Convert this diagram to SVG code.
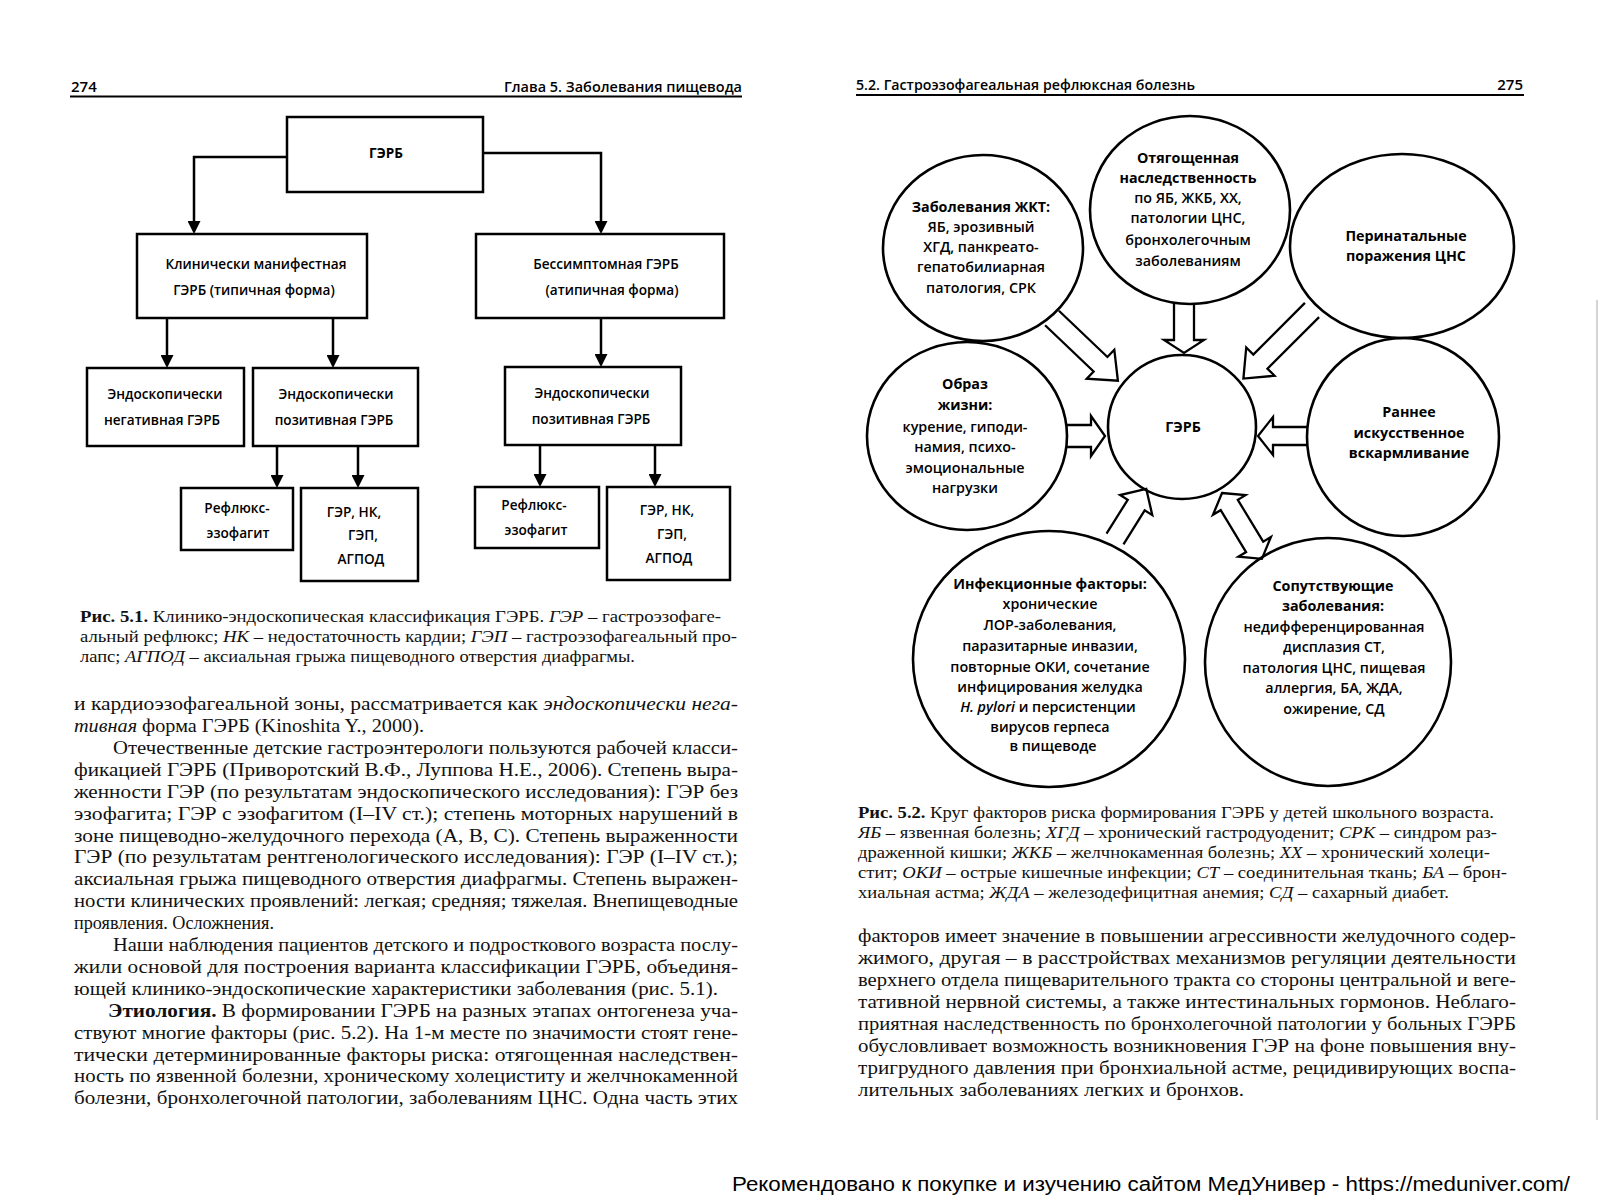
<svg xmlns="http://www.w3.org/2000/svg" width="1601" height="1197" viewBox="0 0 1601 1197">
<style>
.box{fill:none;stroke:#000;stroke-width:2.5}
.ln{fill:none;stroke:#000;stroke-width:2.5}
.circ{fill:none;stroke:#000;stroke-width:2.6}
.ba{fill:none;stroke:#000;stroke-width:2.3;stroke-linejoin:miter}
.d{font-family:"Open Sans","Noto Sans",sans-serif;font-size:14.3px;font-weight:600;text-anchor:middle;fill:#000}
.dl{font-family:"Open Sans","Noto Sans",sans-serif;font-size:13.6px;font-weight:600;text-anchor:middle;fill:#000}
.h{font-weight:700}
.hd{font-family:"Open Sans","Noto Sans",sans-serif;font-size:15px;font-weight:600;fill:#000}
.body{font-family:"Liberation Serif","Times New Roman",serif;font-size:19.8px;fill:#111}
.cap{font-family:"Liberation Serif","Times New Roman",serif;font-size:17px;fill:#111}
.i{font-style:italic}
.bb{font-weight:700}
.wm{font-family:"Liberation Sans",Arial,sans-serif;font-size:20px;fill:#000}
</style>
<defs>
<marker id="ah" markerWidth="13" markerHeight="13" refX="10" refY="6.5" orient="auto" markerUnits="userSpaceOnUse">
<path d="M0,0 L13,6.5 L0,13 Z" fill="#000"/>
</marker>
</defs>
<rect width="1601" height="1197" fill="#fff"/>

<!-- headers -->
<text class="hd" x="71" y="92">274</text>
<text class="hd" x="504" y="92" textLength="238" lengthAdjust="spacingAndGlyphs">Глава 5. Заболевания пищевода</text>
<line x1="70" y1="96.5" x2="742" y2="96.5" stroke="#000" stroke-width="2"/>
<text class="hd" x="856" y="89.5" textLength="339" lengthAdjust="spacingAndGlyphs">5.2. Гастроэзофагеальная рефлюксная болезнь</text>
<text class="hd" x="1523" y="89.5" text-anchor="end">275</text>
<line x1="856" y1="95" x2="1524" y2="95" stroke="#000" stroke-width="2"/>

<!-- Figure 5.1 nodes -->
<g id="n-gerb1"><rect class="box" x="287" y="117" width="196" height="75"/><text class="dl h" x="386" y="158">ГЭРБ</text></g>
<g id="n-manifest"><rect class="box" x="137" y="234" width="230" height="84"/><text class="dl" x="256" y="269">Клинически манифестная</text><text class="dl" x="254" y="295">ГЭРБ (типичная форма)</text></g>
<g id="n-asympt"><rect class="box" x="476" y="234" width="248" height="84"/><text class="dl" x="606" y="269">Бессимптомная ГЭРБ</text><text class="dl" x="612" y="295">(атипичная форма)</text></g>
<g id="n-neg"><rect class="box" x="87" y="368" width="157" height="78"/><text class="dl" x="165" y="399">Эндоскопически</text><text class="dl" x="162" y="425">негативная ГЭРБ</text></g>
<g id="n-pos1"><rect class="box" x="253" y="368" width="165" height="78"/><text class="dl" x="336" y="399">Эндоскопически</text><text class="dl" x="334" y="425">позитивная ГЭРБ</text></g>
<g id="n-pos2"><rect class="box" x="505" y="367" width="176" height="78"/><text class="dl" x="592" y="398">Эндоскопически</text><text class="dl" x="591" y="424">позитивная ГЭРБ</text></g>
<g id="n-re1"><rect class="box" x="181" y="488" width="112" height="62"/><text class="dl" x="237" y="513">Рефлюкс-</text><text class="dl" x="238" y="538">эзофагит</text></g>
<g id="n-ger1"><rect class="box" x="301" y="488" width="117" height="93"/><text class="dl" x="354" y="517">ГЭР, НК,</text><text class="dl" x="363" y="540">ГЭП,</text><text class="dl" x="361" y="564">АГПОД</text></g>
<g id="n-re2"><rect class="box" x="475" y="487" width="124" height="61"/><text class="dl" x="534" y="510">Рефлюкс-</text><text class="dl" x="536" y="535">эзофагит</text></g>
<g id="n-ger2"><rect class="box" x="607" y="487" width="123" height="93"/><text class="dl" x="667" y="515">ГЭР, НК,</text><text class="dl" x="672" y="539">ГЭП,</text><text class="dl" x="669" y="563">АГПОД</text></g>

<g id="connectors-5-1">
<path class="ln" d="M287,157 H194 V231" marker-end="url(#ah)"/>
<path class="ln" d="M483,153 H601 V231" marker-end="url(#ah)"/>
<path class="ln" d="M167,318 V365" marker-end="url(#ah)"/>
<path class="ln" d="M333,318 V365" marker-end="url(#ah)"/>
<path class="ln" d="M601,318 V364" marker-end="url(#ah)"/>
<path class="ln" d="M277,446 V485" marker-end="url(#ah)"/>
<path class="ln" d="M358,446 V485" marker-end="url(#ah)"/>
<path class="ln" d="M540,445 V484" marker-end="url(#ah)"/>
<path class="ln" d="M655,445 V484" marker-end="url(#ah)"/>
</g>

<!-- caption 5.1 -->
<text class="cap" x="80" y="622" textLength="641" lengthAdjust="spacingAndGlyphs"><tspan class="bb">Рис. 5.1.</tspan> Клинико-эндоскопическая классификация ГЭРБ. <tspan class="i">ГЭР</tspan> – гастроэзофаге-</text>
<text class="cap" x="80" y="642" textLength="657" lengthAdjust="spacingAndGlyphs">альный рефлюкс; <tspan class="i">НК</tspan> – недостаточность кардии; <tspan class="i">ГЭП</tspan> – гастроэзофагеальный про-</text>
<text class="cap" x="80" y="662" textLength="555" lengthAdjust="spacingAndGlyphs">лапс; <tspan class="i">АГПОД</tspan> – аксиальная грыжа пищеводного отверстия диафрагмы.</text>

<!-- left body text -->
<text class="body" x="74" y="710" textLength="664" lengthAdjust="spacingAndGlyphs">и кардиоэзофагеальной зоны, рассматривается как <tspan class="i">эндоскопически нега-</tspan></text>
<text class="body" x="74" y="732" textLength="350" lengthAdjust="spacingAndGlyphs"><tspan class="i">тивная</tspan> форма ГЭРБ (Kinoshita Y., 2000).</text>
<text class="body" x="113" y="754" textLength="625" lengthAdjust="spacingAndGlyphs">Отечественные детские гастроэнтерологи пользуются рабочей класси-</text>
<text class="body" x="74" y="776" textLength="664" lengthAdjust="spacingAndGlyphs">фикацией ГЭРБ (Приворотский В.Ф., Луппова Н.Е., 2006). Степень выра-</text>
<text class="body" x="74" y="798" textLength="664" lengthAdjust="spacingAndGlyphs">женности ГЭР (по результатам эндоскопического исследования): ГЭР без</text>
<text class="body" x="74" y="820" textLength="664" lengthAdjust="spacingAndGlyphs">эзофагита; ГЭР с эзофагитом (I–IV ст.); степень моторных нарушений в</text>
<text class="body" x="74" y="842" textLength="664" lengthAdjust="spacingAndGlyphs">зоне пищеводно-желудочного перехода (А, В, С). Степень выраженности</text>
<text class="body" x="74" y="863" textLength="664" lengthAdjust="spacingAndGlyphs">ГЭР (по результатам рентгенологического исследования): ГЭР (I–IV ст.);</text>
<text class="body" x="74" y="885" textLength="664" lengthAdjust="spacingAndGlyphs">аксиальная грыжа пищеводного отверстия диафрагмы. Степень выражен-</text>
<text class="body" x="74" y="907" textLength="664" lengthAdjust="spacingAndGlyphs">ности клинических проявлений: легкая; средняя; тяжелая. Внепищеводные</text>
<text class="body" x="74" y="929" textLength="200" lengthAdjust="spacingAndGlyphs">проявления. Осложнения.</text>
<text class="body" x="113" y="951" textLength="625" lengthAdjust="spacingAndGlyphs">Наши наблюдения пациентов детского и подросткового возраста послу-</text>
<text class="body" x="74" y="973" textLength="664" lengthAdjust="spacingAndGlyphs">жили основой для построения варианта классификации ГЭРБ, объединя-</text>
<text class="body" x="74" y="995" textLength="644" lengthAdjust="spacingAndGlyphs">ющей клинико-эндоскопические характеристики заболевания (рис. 5.1).</text>
<text class="body" x="108" y="1017" textLength="630" lengthAdjust="spacingAndGlyphs"><tspan class="bb">Этиология.</tspan> В формировании ГЭРБ на разных этапах онтогенеза уча-</text>
<text class="body" x="74" y="1039" textLength="664" lengthAdjust="spacingAndGlyphs">ствуют многие факторы (рис. 5.2). На 1-м месте по значимости стоят гене-</text>
<text class="body" x="74" y="1061" textLength="664" lengthAdjust="spacingAndGlyphs">тически детерминированные факторы риска: отягощенная наследствен-</text>
<text class="body" x="74" y="1082" textLength="664" lengthAdjust="spacingAndGlyphs">ность по язвенной болезни, хроническому холециститу и желчнокаменной</text>
<text class="body" x="74" y="1104" textLength="664" lengthAdjust="spacingAndGlyphs">болезни, бронхолегочной патологии, заболеваниям ЦНС. Одна часть этих</text>

<!-- Figure 5.2 nodes -->
<g id="n-gkt"><ellipse class="circ" cx="983" cy="248" rx="100" ry="93"/>
<text class="d h" x="981" y="212">Заболевания ЖКТ:</text><text class="d" x="981" y="232">ЯБ, эрозивный</text><text class="d" x="981" y="252">ХГД, панкреато-</text><text class="d" x="981" y="272">гепатобилиарная</text><text class="d" x="981" y="293">патология, СРК</text></g>
<g id="n-hered"><ellipse class="circ" cx="1190" cy="210" rx="100" ry="94"/>
<text class="d h" x="1188" y="163">Отягощенная</text><text class="d h" x="1188" y="183">наследственность</text><text class="d" x="1188" y="203">по ЯБ, ЖКБ, ХХ,</text><text class="d" x="1188" y="223">патологии ЦНС,</text><text class="d" x="1188" y="245">бронхолегочным</text><text class="d" x="1188" y="266">заболеваниям</text></g>
<g id="n-perinat"><ellipse class="circ" cx="1402" cy="246" rx="112" ry="92"/>
<text class="d h" x="1406" y="241">Перинатальные</text><text class="d h" x="1406" y="261">поражения ЦНС</text></g>
<g id="n-life"><ellipse class="circ" cx="967" cy="436" rx="100" ry="94"/>
<text class="d h" x="965" y="389">Образ</text><text class="d h" x="965" y="410">жизни:</text><text class="d" x="965" y="432">курение, гиподи-</text><text class="d" x="965" y="452">намия, психо-</text><text class="d" x="965" y="473">эмоциональные</text><text class="d" x="965" y="493">нагрузки</text></g>
<g id="n-gerb2"><ellipse class="circ" cx="1182" cy="427" rx="74" ry="72"/>
<text class="d h" x="1183" y="432">ГЭРБ</text></g>
<g id="n-feed"><ellipse class="circ" cx="1403" cy="437" rx="96" ry="99"/>
<text class="d h" x="1409" y="417">Раннее</text><text class="d h" x="1409" y="438">искусственное</text><text class="d h" x="1409" y="458">вскармливание</text></g>
<g id="n-infect"><ellipse class="circ" cx="1049" cy="659" rx="136" ry="128"/>
<text class="d h" x="1050" y="589">Инфекционные факторы:</text><text class="d" x="1050" y="609">хронические</text><text class="d" x="1050" y="630">ЛОР-заболевания,</text><text class="d" x="1050" y="651">паразитарные инвазии,</text><text class="d" x="1050" y="672">повторные ОКИ, сочетание</text><text class="d" x="1050" y="692">инфицирования желудка</text><text class="d" x="1048" y="712"><tspan class="i">H. pylori</tspan> и персистенции</text><text class="d" x="1050" y="732">вирусов герпеса</text><text class="d" x="1053" y="751">в пищеводе</text></g>
<g id="n-comorb"><ellipse class="circ" cx="1328" cy="662" rx="123" ry="124"/>
<text class="d h" x="1333" y="591">Сопутствующие</text><text class="d h" x="1333" y="611">заболевания:</text><text class="d" x="1334" y="632">недифференцированная</text><text class="d" x="1334" y="652">дисплазия СТ,</text><text class="d" x="1334" y="673">патология ЦНС, пищевая</text><text class="d" x="1334" y="693">аллергия, БА, ЖДА,</text><text class="d" x="1334" y="714">ожирение, СД</text></g>

<g id="connectors-5-2">
<path class="ba" transform="translate(1052,318) rotate(43.6)" d="M0,-10 L67,-10 L67,-20 L91,0 L67,20 L67,10 L0,10"/>
<path class="ba" transform="translate(1184,304) rotate(90)" d="M0,-10 L36,-10 L36,-20 L49,0 L36,20 L36,10 L0,10"/>
<path class="ba" transform="translate(1312,310) rotate(135)" d="M0,-10 L73,-10 L73,-20 L97,0 L73,20 L73,10 L0,10"/>
<path class="ba" transform="translate(1066,436)" d="M0,-11 L25,-11 L25,-20 L39,0 L25,20 L25,11 L0,11"/>
<path class="ba" transform="translate(1307,436) rotate(180)" d="M0,-9 L34,-9 L34,-19 L49,0 L34,19 L34,9 L0,9"/>
<path class="ba" transform="translate(1115,539) rotate(-58)" d="M0,-10 L40,-10 L40,-19 L59,0 L40,19 L40,10 L0,10"/>
<path class="ba" transform="translate(1222,493) rotate(58.8)" d="M0,0 L14,-19 L14,-10 L63,-10 L63,-19 L77,0 L63,19 L63,10 L14,10 L14,19 Z"/>
</g>

<!-- caption 5.2 -->
<text class="cap" x="858" y="818" textLength="636" lengthAdjust="spacingAndGlyphs"><tspan class="bb">Рис. 5.2.</tspan> Круг факторов риска формирования ГЭРБ у детей школьного возраста.</text>
<text class="cap" x="858" y="838" textLength="639" lengthAdjust="spacingAndGlyphs"><tspan class="i">ЯБ</tspan> – язвенная болезнь; <tspan class="i">ХГД</tspan> – хронический гастродуоденит; <tspan class="i">СРК</tspan> – синдром раз-</text>
<text class="cap" x="858" y="858" textLength="632" lengthAdjust="spacingAndGlyphs">драженной кишки; <tspan class="i">ЖКБ</tspan> – желчнокаменная болезнь; <tspan class="i">ХХ</tspan> – хронический холеци-</text>
<text class="cap" x="858" y="878" textLength="649" lengthAdjust="spacingAndGlyphs">стит; <tspan class="i">ОКИ</tspan> – острые кишечные инфекции; <tspan class="i">СТ</tspan> – соединительная ткань; <tspan class="i">БА</tspan> – брон-</text>
<text class="cap" x="858" y="898" textLength="591" lengthAdjust="spacingAndGlyphs">хиальная астма; <tspan class="i">ЖДА</tspan> – железодефицитная анемия; <tspan class="i">СД</tspan> – сахарный диабет.</text>

<!-- right body text -->
<text class="body" x="858" y="942" textLength="658" lengthAdjust="spacingAndGlyphs">факторов имеет значение в повышении агрессивности желудочного содер-</text>
<text class="body" x="858" y="964" textLength="658" lengthAdjust="spacingAndGlyphs">жимого, другая – в расстройствах механизмов регуляции деятельности</text>
<text class="body" x="858" y="986" textLength="658" lengthAdjust="spacingAndGlyphs">верхнего отдела пищеварительного тракта со стороны центральной и веге-</text>
<text class="body" x="858" y="1008" textLength="658" lengthAdjust="spacingAndGlyphs">тативной нервной системы, а также интестинальных гормонов. Неблаго-</text>
<text class="body" x="858" y="1030" textLength="658" lengthAdjust="spacingAndGlyphs">приятная наследственность по бронхолегочной патологии у больных ГЭРБ</text>
<text class="body" x="858" y="1052" textLength="658" lengthAdjust="spacingAndGlyphs">обусловливает возможность возникновения ГЭР на фоне повышения вну-</text>
<text class="body" x="858" y="1074" textLength="658" lengthAdjust="spacingAndGlyphs">тригрудного давления при бронхиальной астме, рецидивирующих воспа-</text>
<text class="body" x="858" y="1096" textLength="386" lengthAdjust="spacingAndGlyphs">лительных заболеваниях легких и бронхов.</text>

<line x1="1597" y1="300" x2="1597" y2="1120" stroke="#aaa" stroke-width="1"/>

<text class="wm" x="732" y="1191" textLength="838" lengthAdjust="spacingAndGlyphs">Рекомендовано к покупке и изучению сайтом МедУнивер - https://meduniver.com/</text>
</svg>
